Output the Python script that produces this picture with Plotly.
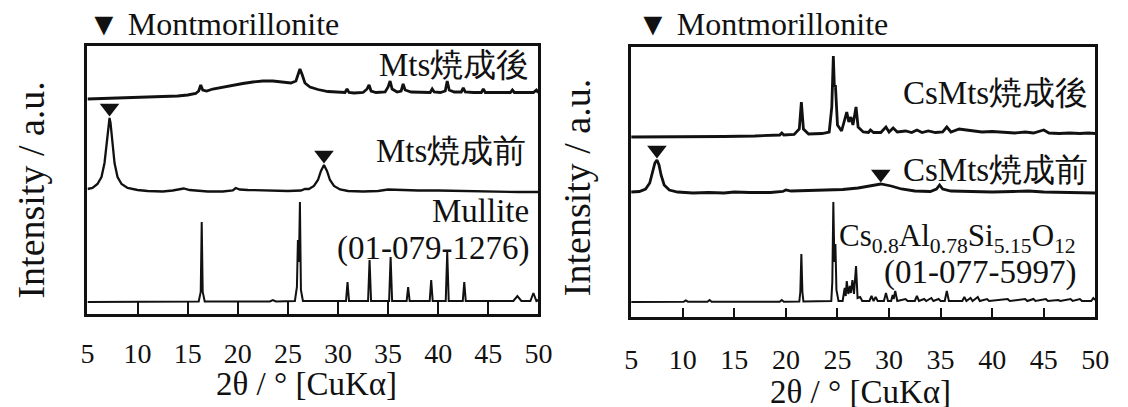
import plotly.graph_objects as go

W, H = 1128, 407

# ---------------- data (2θ in degrees, intensity in a.u. above each trace's own baseline) -------------
ticks_2theta = [5, 10, 15, 20, 25, 30, 35, 40, 45, 50]

# Left panel
mts_after = [(5, 0), (7, 0.5), (9, 1), (11, 1.5), (13, 2.5), (14, 3), (15, 4), (15.8, 5.5), (16.1, 8),
             (16.3, 14), (16.5, 9), (16.9, 8), (17.5, 10), (18.5, 12), (19.5, 14), (20.5, 15.5),
             (21.5, 17), (22.5, 18), (23.5, 18), (24.5, 17), (25.3, 16), (25.8, 18), (26.0, 24),
             (26.2, 30), (26.4, 25), (26.7, 16), (27.2, 12), (28.0, 9.5), (29.0, 7.5), (30.0, 6.5),
             (30.7, 6.5), (30.9, 10), (31.1, 6.5), (31.6, 6), (32.5, 6.5), (32.9, 10), (33.1, 14),
             (33.3, 8), (33.8, 6.5), (34.7, 7), (35.0, 12), (35.2, 18), (35.4, 10), (35.9, 7),
             (36.3, 8), (36.5, 15), (36.7, 9), (37.3, 7), (38.3, 6.5), (39.2, 6.5), (39.4, 10),
             (39.6, 7), (40.2, 6.5), (40.7, 8), (40.9, 18), (41.1, 9), (41.6, 7), (42.3, 7),
             (42.5, 11), (42.7, 7), (43.5, 6.5), (44.3, 6.5), (44.5, 10), (44.7, 6.5), (45.5, 6.5),
             (46.5, 6.5), (47.2, 6.5), (47.4, 9), (47.6, 6.5), (48.5, 6.5), (49.5, 6.5), (49.8, 9),
             (50, 6.5)]

mts_before = [(5, 4), (5.5, 5), (6.0, 9), (6.4, 16), (6.7, 30), (6.9, 50), (7.1, 70), (7.2, 75),
              (7.3, 70), (7.5, 50), (7.7, 30), (8.0, 16), (8.4, 9), (9, 5), (10, 3), (11, 2),
              (12.5, 1.5), (13.5, 2.5), (14.2, 4), (14.6, 4.5), (15.2, 3), (16, 2), (17, 1.5),
              (18.5, 1.5), (19.5, 2.5), (19.8, 5), (20.2, 3.5), (21, 3), (23, 2.5), (25, 2),
              (26.3, 2.5), (26.7, 4), (27.1, 4), (27.6, 7), (28.0, 13), (28.3, 22), (28.6, 28),
              (28.9, 22), (29.2, 13), (29.6, 7), (30.2, 3.5), (31, 2), (32.5, 1.5), (34, 2),
              (35, 3.5), (36, 3), (38, 2.5), (40, 2.5), (42, 2), (45, 1.5), (48, 1), (50, 1)]

mullite_ref = [(5, 0), (16.1, 0.5), (16.3, 10), (16.4, 80), (16.5, 10), (16.7, 0.5), (23.2, 0.5),
               (23.5, 2), (23.8, 0.5), (25.7, 1), (25.9, 15), (26.0, 62), (26.1, 40), (26.2, 100),
               (26.3, 12), (26.5, 1), (30.8, 1), (30.95, 20), (31.1, 1), (33.0, 1), (33.15, 42),
               (33.3, 1), (35.1, 1), (35.25, 45), (35.4, 1), (36.85, 1), (37.0, 15), (37.15, 1),
               (39.15, 1), (39.3, 22), (39.45, 1), (40.75, 1), (40.9, 50), (41.05, 1), (42.45, 1),
               (42.6, 20), (42.75, 1), (47.5, 1), (47.9, 6), (48.3, 1), (49.2, 1), (49.5, 9),
               (49.8, 1), (50, 2)]

# Right panel
csmts_after = [(5, 0), (8, 0), (11, 0.5), (14, 0.5), (17, 1), (18.5, 1.5), (19.4, 2), (19.6, 4),
               (19.8, 2), (20.8, 2.5), (21.3, 8), (21.5, 35), (21.7, 8), (22.2, 3), (23.5, 3.5),
               (24.2, 5), (24.45, 30), (24.6, 81), (24.7, 50), (24.8, 52), (25.0, 12), (25.4, 6),
               (25.7, 18), (25.9, 25), (26.1, 15), (26.3, 20), (26.5, 12), (26.8, 30), (27.0, 10),
               (27.5, 5), (28.0, 4.5), (28.2, 7), (28.5, 4.5), (29.2, 4.5), (29.7, 10), (30.0, 5),
               (30.4, 9), (30.8, 5), (31.6, 6), (32.2, 4.5), (32.7, 7), (33.2, 4.5), (33.8, 6),
               (34.5, 4.5), (35.2, 5), (35.6, 10), (36.0, 5), (36.8, 8), (37.5, 7), (38.3, 6),
               (39.0, 5), (40.0, 5.5), (41.5, 4.5), (42.2, 4), (43.2, 5), (44.0, 4), (45.0, 7),
               (45.5, 4), (46.5, 3.5), (47.5, 4), (48.5, 3.5), (49.3, 4), (50, 3.5)]

csmts_before = [(5, 3), (5.8, 3.5), (6.4, 6), (6.8, 12), (7.1, 24), (7.3, 32), (7.5, 35), (7.7, 30),
                (7.9, 20), (8.2, 10), (8.7, 5), (9.5, 3), (11, 2), (12.5, 2.5), (14, 2), (15, 3),
                (16.5, 2.5), (18.5, 2.5), (19.7, 3.5), (20.0, 5), (20.5, 4), (22, 4.5), (24, 5),
                (25.5, 5.5), (27, 7), (28.2, 9.5), (29.2, 11), (30.2, 9), (31.2, 6), (32.5, 4),
                (34.0, 3.5), (34.6, 6), (34.9, 10), (35.2, 6), (36.0, 4), (38, 3.5), (40, 3),
                (42, 3.5), (43.5, 4), (45, 3), (47, 2.5), (50, 2)]

cs_ref = [(5, 0), (10.1, 0.3), (10.3, 1.5), (10.5, 0.3), (12.4, 0.3), (12.6, 2), (12.8, 0.3),
          (19.4, 0.3), (19.6, 2), (19.8, 0.3), (21.3, 0.5), (21.4, 10), (21.5, 48), (21.6, 10),
          (21.7, 0.5), (24.4, 1), (24.5, 20), (24.6, 100), (24.7, 40), (24.8, 58), (24.9, 12),
          (25.1, 1), (25.5, 1), (25.7, 14), (25.8, 6), (25.9, 21), (26.05, 8), (26.2, 16), (26.3, 9),
          (26.45, 22), (26.6, 8), (26.8, 36), (26.95, 4), (27.2, 5), (27.4, 1), (28.1, 1), (28.3, 6),
          (28.5, 1), (28.7, 5), (28.9, 1), (29.5, 1), (29.7, 9), (29.9, 1), (30.2, 1), (30.35, 7),
          (30.45, 3), (30.6, 11), (30.8, 1), (31.6, 3), (31.8, 1), (32.5, 1), (32.7, 6), (32.9, 1),
          (33.4, 3), (33.6, 1), (34.1, 4), (34.3, 1), (34.8, 3), (35.0, 1), (35.4, 1), (35.6, 11),
          (35.8, 1), (37.1, 1), (37.3, 5), (37.5, 1), (37.9, 4), (38.1, 1), (38.6, 5), (38.8, 1),
          (39.5, 3), (39.7, 1), (41.5, 3), (41.7, 1), (43.2, 3), (43.4, 1), (44.0, 3), (44.2, 1),
          (45.2, 3), (45.4, 1), (46.4, 2), (46.6, 1), (47.6, 3), (47.8, 1), (48.5, 3), (48.7, 1),
          (49.6, 1), (49.8, 4), (50, 2)]

# montmorillonite peak positions marked by ▼ (2θ, peak height above baseline)
mont_left = [(7.2, 75), (28.6, 28)]
mont_right = [(7.5, 35), (29.2, 11)]

# ---------------- layout helpers -------------
SERIF = "Liberation Serif"
INK = "#111111"


def px(x, y):
    return x / W, 1 - y / H


L = dict(x0=82, x1=541.5, y0=46, y1=314)   # left frame in pixels
R = dict(x0=636, x1=1109, y0=47, y1=317)   # right frame in pixels
L_RANGE = [0, L["y1"] - L["y0"]]
R_RANGE = [0, R["y1"] - R["y0"]]

# offsets (baselines) of stacked traces inside each frame
OFF_L = {"after": 215, "before": 121, "ref": 12}
OFF_R = {"after": 180, "before": 122, "ref": 15}
TRI_GAP = 10

fig = go.Figure()


def add_line(pairs, off, xa, ya, width):
    xs = [p[0] for p in pairs]
    ys = [p[1] + off for p in pairs]
    fig.add_trace(go.Scatter(x=xs, y=ys, mode="lines", xaxis=xa, yaxis=ya,
                             line=dict(color=INK, width=width), hoverinfo="skip",
                             showlegend=False))


add_line(mts_after, OFF_L["after"], "x", "y", 2.8)
add_line(mts_before, OFF_L["before"], "x", "y", 2.3)
add_line(mullite_ref, OFF_L["ref"], "x", "y", 2.0)
add_line(csmts_after, OFF_R["after"], "x2", "y2", 2.8)
add_line(csmts_before, OFF_R["before"], "x2", "y2", 2.8)
add_line(cs_ref, OFF_R["ref"], "x2", "y2", 2.0)

# ▼ markers above montmorillonite peaks
fig.add_trace(go.Scatter(x=[p[0] for p in mont_left],
                         y=[p[1] + OFF_L["before"] + TRI_GAP for p in mont_left],
                         mode="markers", xaxis="x", yaxis="y", hoverinfo="skip", showlegend=False,
                         marker=dict(symbol="triangle-down", size=17, color=INK)))
fig.add_trace(go.Scatter(x=[p[0] for p in mont_right],
                         y=[p[1] + OFF_R["before"] + TRI_GAP for p in mont_right],
                         mode="markers", xaxis="x2", yaxis="y2", hoverinfo="skip", showlegend=False,
                         marker=dict(symbol="triangle-down", size=17, color=INK)))

axis_common = dict(showgrid=False, zeroline=False, showline=True, mirror=True,
                   linecolor=INK, linewidth=2.5)
xcommon = dict(axis_common, range=[5, 50], tickmode="array", tickvals=ticks_2theta,
               ticktext=[str(t) for t in ticks_2theta], ticks="inside", tickwidth=2,
               tickcolor=INK, tickfont=dict(family=SERIF, size=28, color=INK))

fig.update_layout(
    width=W, height=H, margin=dict(l=0, r=0, t=0, b=0),
    paper_bgcolor="white", plot_bgcolor="white",
    font=dict(family=SERIF, color=INK),
    xaxis=dict(xcommon, domain=[L["x0"] / W, L["x1"] / W], anchor="y", ticklen=12,
               ticklabelstandoff=13),
    yaxis=dict(axis_common, domain=[1 - L["y1"] / H, 1 - L["y0"] / H], range=L_RANGE,
               showticklabels=False, ticks="", anchor="x"),
    xaxis2=dict(xcommon, domain=[R["x0"] / W, R["x1"] / W], anchor="y2", ticklen=9,
                ticklabelstandoff=16),
    yaxis2=dict(axis_common, domain=[1 - R["y1"] / H, 1 - R["y0"] / H], range=R_RANGE,
                showticklabels=False, ticks="", anchor="x2"),
)

anns = []


def text(x, y, s, size=33, xanchor="center", angle=0):
    ax, ay = px(x, y)
    anns.append(dict(x=ax, y=ay, xref="paper", yref="paper", text=s, showarrow=False,
                     xanchor=xanchor, yanchor="middle", textangle=angle,
                     font=dict(family=SERIF, size=size, color=INK)))


# headers
text(81, 24, "▼ Montmorillonite", 32, "left")
text(640, 24, "▼ Montmorillonite", 32, "left")
# left panel labels
text(534, 65, "Mts焼成後", 33, "right")
text(531, 151, "Mts焼成前", 33, "right")
text(534, 211, "Mullite", 33, "right")
text(534, 248, "(01-079-1276)", 33, "right")
# right panel labels
text(1104, 93, "CsMts焼成後", 33, "right")
text(1104, 170, "CsMts焼成前", 33, "right")
text(1091, 238, "Cs<sub>0.8</sub>Al<sub>0.78</sub>Si<sub>5.15</sub>O<sub>12</sub>", 31, "right")
text(1091, 272, "(01-077-5997)", 33, "right")
# axis titles
text(24, 190, "Intensity / a.u.", 38, "center", -90)
text(581, 188, "Intensity / a.u.", 38, "center", -90)
text(305, 384, "2θ / ° [CuKα]", 33)
text(870, 392, "2θ / ° [CuKα]", 33)

fig.update_layout(annotations=anns)
# the page body must not add its default 8px margin around the 1128x407 figure
fig.write_html("out.html", config={"displayModeBar": False},
               post_script="document.body.style.margin='0px';")
